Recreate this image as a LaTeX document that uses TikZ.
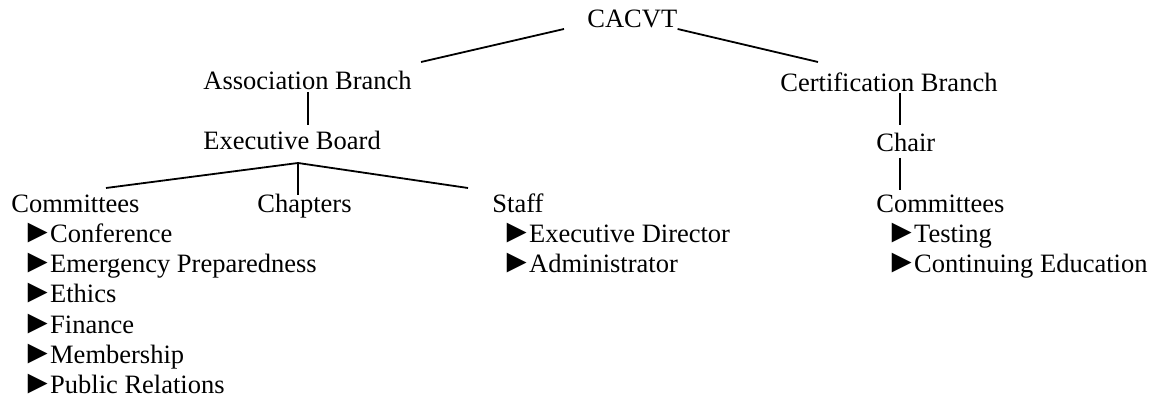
\documentclass[tikz,border=0pt]{standalone}
\usepackage{fontspec}
\usepackage{graphicx}
\setmainfont{Liberation Serif}
\newcommand\tri{\scalebox{1.25}{►}\kern-2pt}
\begin{document}
\begin{tikzpicture}[x=0.5pt,y=-0.5pt,
  every node/.style={inner sep=0pt,anchor=base west,font=\fontsize{13.25pt}{15pt}\selectfont},
  link/.style={line width=0.9pt}]
  \useasboundingbox (0,0) rectangle (1152,400);
  % top and branches
  \node (cacvt) at (587,28) {CACVT};
  \node (assoc) at (203,90) {Association Branch};
  \node (cert) at (780,92) {Certification Branch};
  % association side
  \node (exec) at (203,150) {Executive Board};
  \node (comm) at (11,213) {Committees};
  \node (chap) at (257,213) {Chapters};
  \node (staff) at (492,213) {Staff};
  \node (conf) at (21,243) {\tri Conference};
  \node (emerg) at (21,273) {\tri Emergency Preparedness};
  \node (ethics) at (21,303) {\tri Ethics};
  \node (fin) at (21,334) {\tri Finance};
  \node (memb) at (21,364) {\tri Membership};
  \node (pr) at (21,394) {\tri Public Relations};
  \node (dir) at (500,243) {\tri Executive Director};
  \node (admin) at (500,273) {\tri Administrator};
  % certification side
  \node (chair) at (876,152) {Chair};
  \node (ccomm) at (876,213) {Committees};
  \node (test) at (885,243) {\tri Testing};
  \node (cont) at (885,273) {\tri Continuing Education};
  % connectors
  \coordinate (fan) at ([shift={(95,13)}]exec.base west);
  \draw[link] ([shift={(-23,1)}]cacvt.base west) -- ([shift={(9,-28)}]assoc.base east);
  \draw[link] ([shift={(0,1)}]cacvt.base east) -- ([shift={(38,-30)}]cert.base west);
  \draw[link] ([shift={(105,2)}]assoc.base west) -- ([shift={(105,-25)}]exec.base west);
  \draw[link] ([shift={(95,-25)}]comm.base west) -- (fan) -- ([shift={(-24,-25)}]staff.base west);
  \draw[link] (fan) -- ([shift={(41,-18)}]chap.base west);
  \draw[link] ([shift={(120,1)}]cert.base west) -- ([shift={(24,-27)}]chair.base west);
  \draw[link] ([shift={(24,6)}]chair.base west) -- ([shift={(24,-23)}]ccomm.base west);
\end{tikzpicture}
\end{document}
